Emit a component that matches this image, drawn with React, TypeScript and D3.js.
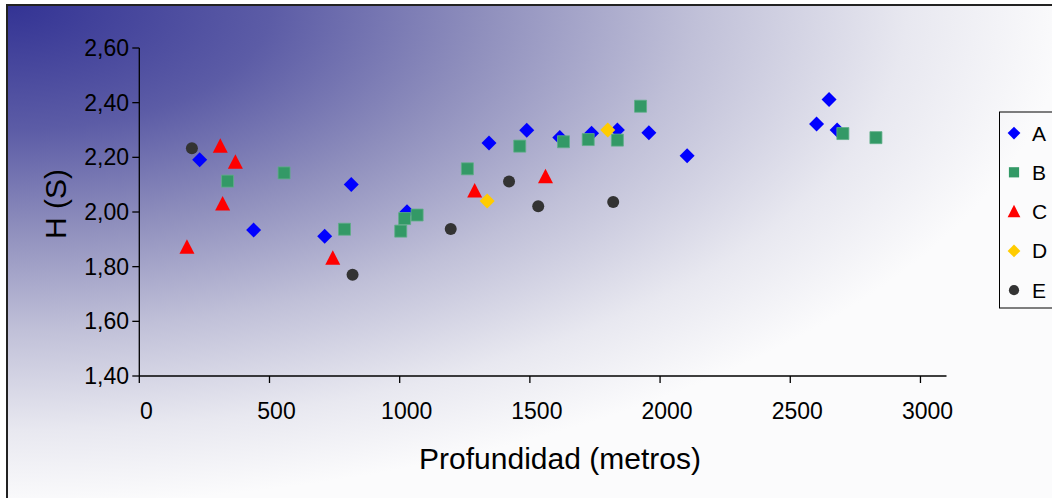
import React from "react";
import * as d3 from "d3";

const seriesNames = ["A", "B", "C", "D", "E"];
const seriesColors = ["#0000FF", "#339966", "#FF0000", "#FFCC00", "#333333"];
const seriesShapes = ["diamond", "square", "triangle", "diamond", "circle"];

const seriesA: [number, number][] = [
  [232, 2.191], [439, 1.934], [712, 1.911], [814, 2.101], [1028, 2.001],
  [1343, 2.252], [1488, 2.299], [1615, 2.273], [1737, 2.288], [1836, 2.3],
  [1957, 2.29], [2104, 2.206], [2601, 2.322], [2649, 2.412], [2680, 2.3],
];
const seriesB: [number, number][] = [
  [339, 2.113], [556, 2.143], [788, 1.937], [1004, 1.93], [1019, 1.976],
  [1067, 1.989], [1260, 2.158], [1461, 2.241], [1629, 2.257], [1724, 2.265],
  [1836, 2.263], [1925, 2.387], [2702, 2.287], [2829, 2.272],
];
const seriesC: [number, number][] = [
  [183, 1.871], [311, 2.241], [320, 2.029], [369, 2.182], [743, 1.831],
  [1288, 2.077], [1560, 2.129],
];
const seriesD: [number, number][] = [[1336, 2.04], [1799, 2.3]];
const seriesE: [number, number][] = [
  [202, 2.233], [819, 1.77], [1196, 1.938], [1420, 2.112], [1532, 2.021], [1820, 2.037],
];
const allSeries = [seriesA, seriesB, seriesC, seriesD, seriesE];

const xTicks = [0, 500, 1000, 1500, 2000, 2500, 3000];
const yTicks = [1.4, 1.6, 1.8, 2.0, 2.2, 2.4, 2.6];
const xTitle = "Profundidad (metros)";
const yTitle = "H (S)";

const FONT = "'Liberation Sans', Arial, sans-serif";

function markerPath(shape: string): string {
  switch (shape) {
    case "diamond":
      return "M0,-7.5L7.5,0L0,7.5L-7.5,0Z";
    case "square":
      return "M-6,-6H6V6H-6Z";
    case "triangle":
      return "M0,-8L7.5,6.5L-7.5,6.5Z";
    default:
      return d3.symbol().type(d3.symbolCircle).size(Math.PI * 36)() || "";
  }
}

export default function App() {
  const x = d3.scaleLinear().domain([0, 3100]).range([139.3, 946.5]);
  const y = d3.scaleLinear().domain([1.4, 2.6]).range([376, 48]);
  const fmtY = (v: number) => d3.format(".2f")(v).replace(".", ",");

  const legendY0 = 133;
  const legendStep = 39.3;

  return (
    <svg
      width={1052}
      height={498}
      style={{ position: "absolute", left: 0, top: 0, display: "block" }}
      fontFamily={FONT}
    >
      <defs>
        <radialGradient id="bg" cx="0" cy="0" r="1" fx="0" fy="0" gradientUnits="objectBoundingBox">
          <stop offset="0" stopColor="#333394" />
          <stop offset="0.25" stopColor="#5c5ca6" />
          <stop offset="0.45" stopColor="#8f8fbd" />
          <stop offset="0.65" stopColor="#c0c0d8" />
          <stop offset="0.85" stopColor="#e8e8f0" />
          <stop offset="1" stopColor="#fbfbfc" />
        </radialGradient>
      </defs>
      <rect x={0} y={0} width={1052} height={498} fill="#fff" />
      <rect x={7} y={5} width={1060} height={500} fill="url(#bg)" stroke="#222" strokeWidth={2} />

      {/* axes */}
      <line x1={x(0)} x2={x(0)} y1={y(2.6)} y2={y(1.4)} stroke="#000" strokeWidth={1.3} />
      <line x1={x(0)} x2={x(3100)} y1={y(1.4)} y2={y(1.4)} stroke="#000" strokeWidth={1.3} />
      {yTicks.map((t) => (
        <g key={"y" + t}>
          <line x1={x(0) - 7} x2={x(0)} y1={y(t)} y2={y(t)} stroke="#000" strokeWidth={1.3} />
          <text x={129} y={y(t)} dy="0.35em" textAnchor="end" fontSize={23} fill="#000">
            {fmtY(t)}
          </text>
        </g>
      ))}
      {xTicks.map((t) => (
        <g key={"x" + t}>
          <line x1={x(t)} x2={x(t)} y1={y(1.4)} y2={y(1.4) + 7} stroke="#000" strokeWidth={1.3} />
          <text x={x(t) + 7} y={419} textAnchor="middle" fontSize={23} fill="#000">
            {t}
          </text>
        </g>
      ))}

      <text x={560} y={469} textAnchor="middle" fontSize={30} fill="#000">
        {xTitle}
      </text>
      <text
        transform="translate(66,204) rotate(-90)"
        textAnchor="middle"
        fontSize={30}
        fill="#000"
      >
        {yTitle}
      </text>

      {/* points */}
      {allSeries.map((data, si) => (
        <g key={"s" + si}>
          {data.map((d, i) => (
            <path
              key={i}
              d={markerPath(seriesShapes[si])}
              transform={`translate(${x(d[0])},${y(d[1])})`}
              fill={seriesColors[si]}
              stroke={si === 1 ? "#5fae88" : "none"}
              strokeWidth={si === 1 ? 0.8 : 0}
            />
          ))}
        </g>
      ))}

      {/* legend */}
      <rect x={999.5} y={112} width={60} height={196} fill="none" stroke="#000" strokeWidth={1} />
      {seriesNames.map((n, i) => (
        <g key={"l" + n} transform={`translate(0,${legendY0 + i * legendStep})`}>
          <path
            d={markerPath(seriesShapes[i])}
            transform="translate(1014,0) scale(0.85)"
            fill={seriesColors[i]}
          />
          <text x={1032} y={0} dy="0.36em" fontSize={21} fill="#000">
            {n}
          </text>
        </g>
      ))}
    </svg>
  );
}
